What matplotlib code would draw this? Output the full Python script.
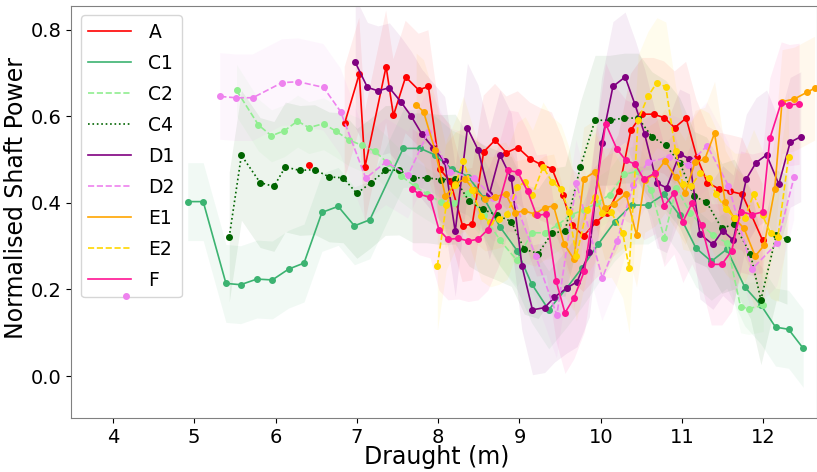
#!/usr/bin/env python3
"""Normalised shaft power against draught for each vessel, with spread bands."""

import matplotlib

matplotlib.use("Agg")

import matplotlib.pyplot as plt
import numpy as np
from matplotlib.lines import Line2D

nan = np.nan

LABELS = ["A", "C1", "C2", "C4", "D1", "D2", "E1", "E2", "F"]
COLORS = ["red", "mediumseagreen", "lightgreen", "darkgreen", "purple",
          "violet", "orange", "gold", "deeppink"]
STYLES = ["-", "-", "--", ":", "-", "--", "-", "--", "-"]
# rough half-width of the shaded band for each series
SPREADS = [0.13, 0.09, 0.06, 0.15, 0.15, 0.10, 0.12, 0.15, 0.14]

A_X = [6.41, nan, 6.85, 7.03, 7.10, 7.36, 7.45, 7.60, 7.76, 7.88,
       8.02, 8.15, 8.30, 8.42, 8.56, 8.70, 8.84, 8.98, 9.13, 9.26,
       9.40, 9.53, 9.65, 9.79, 9.94, 10.08, 10.22, 10.37, 10.51, 10.65,
       10.78, 10.91, 11.05, 11.18, 11.31, 11.46, 11.59, 11.74, 11.99]
A_Y = [0.488, nan, 0.584, 0.698, 0.483, 0.715, 0.602, 0.691, 0.661, 0.669,
       0.478, 0.450, 0.347, 0.351, 0.518, 0.545, 0.516, 0.528, 0.502, 0.489,
       0.479, 0.419, 0.348, 0.324, 0.355, 0.377, 0.428, 0.568, 0.605, 0.605,
       0.597, 0.574, 0.596, 0.507, 0.447, 0.432, 0.427, 0.420, 0.314]

C1_X = [4.92, 5.11, 5.39, 5.57, 5.77, 5.96, 6.16, 6.35, 6.57, 6.77,
        6.97, 7.16, 7.57, 7.78, 7.96, 8.17, 8.37, 8.56, 8.76, 8.97,
        9.15, 9.36, 9.58, 9.77, 9.97, 10.17, 10.38, 10.58, 10.78, 10.97,
        11.17, 11.36, 11.55, 11.77, 11.97, 12.15, 12.31, 12.49]
C1_Y = [0.403, 0.403, 0.214, 0.211, 0.224, 0.222, 0.247, 0.261, 0.378, 0.392,
        0.347, 0.361, 0.526, 0.526, 0.511, 0.478, 0.461, 0.412, 0.345, 0.290,
        0.213, 0.153, 0.203, 0.250, 0.305, 0.356, 0.395, 0.395, 0.420, 0.371,
        0.296, 0.265, 0.293, 0.206, 0.164, 0.113, 0.108, 0.064]

C2_X = [5.52, 5.79, 5.95, 6.11, 6.27, 6.41, 6.59, 6.74, 6.90, 7.06,
        7.22, 7.38, 7.54, 7.71, 7.86, 8.03, 8.19, 8.37, 8.56, 8.76,
        8.97, 9.15, 9.31, 9.47, 9.63, 9.79, 9.95, 10.11, 10.29, 10.45,
        10.62, 10.78, 10.93, 11.10, 11.24, 11.38, 11.55, 11.72, 11.82, 12.00]
C2_Y = [0.660, 0.580, 0.555, 0.567, 0.589, 0.574, 0.583, 0.566, 0.546, 0.533,
        0.520, 0.492, 0.463, 0.439, 0.421, 0.402, 0.399, 0.422, 0.372, 0.314,
        0.267, 0.331, 0.331, 0.349, 0.372, 0.384, 0.399, 0.419, 0.466, 0.473,
        0.429, 0.320, 0.435, 0.377, 0.349, 0.326, 0.308, 0.160, 0.156, 0.163]

C4_X = [5.43, 5.58, 5.81, 5.98, 6.12, 6.30, 6.48, 6.66, 6.83, 7.00,
        7.17, 7.35, 7.52, 7.69, 7.86, 8.03, 8.21, 8.38, 8.55, 8.72,
        8.90, 9.06, 9.23, 9.40, 9.56, 9.75, 9.93, 10.11, 10.29, 10.46,
        10.63, 10.80, 10.97, 11.15, 11.30, 11.49, 11.64, 11.84, 11.97, 12.16,
        12.29]
C4_Y = [0.321, 0.510, 0.447, 0.438, 0.483, 0.475, 0.477, 0.460, 0.458, 0.422,
        0.446, 0.475, 0.476, 0.458, 0.458, 0.454, 0.455, 0.404, 0.385, 0.372,
        0.357, 0.293, 0.283, 0.330, 0.335, 0.484, 0.591, 0.591, 0.596, 0.596,
        0.553, 0.533, 0.493, 0.415, 0.402, 0.341, 0.351, 0.283, 0.176, 0.326,
        0.316]

D1_X = [6.98, 7.13, 7.26, 7.40, 7.54, 7.67, 7.80, 7.94, 8.08, 8.21,
        8.36, 8.49, 8.63, 8.76, 8.90, 9.03, 9.16, 9.31, 9.43, 9.58,
        9.71, 9.86, 10.01, 10.15, 10.30, 10.42, 10.54, 10.69, 10.81, 10.97,
        11.09, 11.22, 11.38, 11.50, 11.63, 11.79, 11.91, 12.04, 12.19, 12.33,
        12.46]
D1_Y = [0.725, 0.667, 0.659, 0.666, 0.634, 0.600, 0.559, 0.527, 0.496, 0.334,
        0.573, 0.523, 0.420, 0.511, 0.457, 0.255, 0.153, 0.158, 0.182, 0.203,
        0.218, 0.287, 0.539, 0.669, 0.691, 0.628, 0.559, 0.446, 0.435, 0.513,
        0.502, 0.328, 0.304, 0.336, 0.314, 0.455, 0.493, 0.511, 0.443, 0.540,
        0.553]

D2_X = [4.16, nan, 5.32, 5.51, 5.72, 6.08, 6.28, 6.59, 6.80, 7.11,
        7.36, 7.63, 7.88, 8.15, 8.44, 8.68, 8.92, 9.20, 9.46, 9.70,
        10.02, 10.20, 10.40, 10.58, 10.84, 11.07, 11.31, 11.57, 11.86, 12.17,
        12.38]
D2_Y = [0.186, nan, 0.646, 0.643, 0.643, 0.678, 0.680, 0.667, 0.611, 0.457,
        0.495, 0.464, 0.565, 0.472, 0.457, 0.412, 0.414, 0.277, 0.141, 0.445,
        0.227, 0.311, 0.442, 0.495, 0.505, 0.488, 0.532, 0.440, 0.247, 0.307,
        0.461]

E1_X = [7.73, 7.82, 7.96, 8.09, 8.21, 8.33, 8.44, 8.58, 8.70, 8.83,
        8.95, 9.06, 9.19, 9.31, 9.42, 9.55, 9.67, 9.79, 9.93, 10.05,
        10.16, 10.31, 10.44, 10.54, 10.67, 10.79, 10.92, 11.04, 11.16, 11.28,
        11.40, 11.53, 11.64, 11.76, 11.90, 12.01, 12.14, 12.23, 12.38, 12.54,
        12.63]
E1_Y = [0.626, 0.611, 0.523, 0.415, 0.444, 0.455, 0.430, 0.409, 0.414, 0.421,
        0.377, 0.382, 0.374, 0.389, 0.393, 0.305, 0.270, 0.455, 0.472, 0.388,
        0.398, 0.421, 0.326, 0.452, 0.467, 0.497, 0.460, 0.424, 0.494, 0.501,
        0.561, 0.402, 0.365, 0.342, 0.277, 0.302, 0.431, 0.634, 0.640, 0.656,
        0.665]

E2_X = [7.99, 8.10, 8.21, 8.31, 8.42, 8.53, 8.64, 8.75, 8.85, 8.97,
        9.07, 9.16, 9.29, 9.40, 9.51, 9.61, 9.70, 9.83, 9.93, 10.02,
        10.13, 10.27, 10.35, 10.46, 10.58, 10.69, 10.80, 10.92, 11.01, 11.11,
        11.22, 11.33, 11.42, 11.54, 11.65, 11.77, 11.88, 11.99, 12.09, 12.18,
        12.31]
E2_Y = [0.254, 0.395, 0.442, 0.497, 0.430, 0.370, 0.356, 0.362, 0.374, 0.436,
        0.449, 0.418, 0.483, 0.449, 0.432, 0.378, 0.277, 0.384, 0.414, 0.376,
        0.378, 0.331, 0.249, 0.592, 0.646, 0.678, 0.668, 0.520, 0.443, 0.438,
        0.469, 0.458, 0.420, 0.385, 0.365, 0.365, 0.420, 0.371, 0.330, 0.322,
        0.507]

F_X = [7.68, 7.77, 7.90, 8.01, 8.12, 8.25, 8.37, 8.49, 8.61, 8.74,
       8.86, 8.98, 9.10, 9.21, 9.33, 9.45, 9.56, 9.67, 9.80, 10.06,
       10.20, 10.31, 10.42, 10.53, 10.67, 10.78, 10.90, 11.01, 11.12, 11.24,
       11.36, 11.49, 11.61, 11.72, 11.86, 11.99, 12.08, 12.22, 12.32, 12.44]
F_Y = [0.432, 0.420, 0.413, 0.338, 0.316, 0.318, 0.312, 0.316, 0.338, 0.393,
       0.475, 0.471, 0.427, 0.371, 0.374, 0.220, 0.146, 0.180, 0.243, 0.583,
       0.524, 0.498, 0.490, 0.455, 0.469, 0.393, 0.422, 0.356, 0.399, 0.348,
       0.258, 0.258, 0.289, 0.380, 0.373, 0.379, 0.549, 0.632, 0.626, 0.629]

SERIES_X = [A_X, C1_X, C2_X, C4_X, D1_X, D2_X, E1_X, E2_X, F_X]
SERIES_Y = [A_Y, C1_Y, C2_Y, C4_Y, D1_Y, D2_Y, E1_Y, E2_Y, F_Y]


def main() -> None:
    fig = plt.figure(figsize=(8.17, 4.72), dpi=100)
    ax = fig.add_axes([0.0875, 0.1144, 0.9125, 0.8729])

    for xs, ys, color, style, spread in zip(SERIES_X, SERIES_Y, COLORS, STYLES, SPREADS):
        x = np.asarray(xs, dtype=float)
        y = np.asarray(ys, dtype=float)
        ax.fill_between(x, y - spread, y + spread, color=color, alpha=0.07, linewidth=0)
        ax.plot(x, y, color=color, linestyle=style, linewidth=1.2, marker="o", markersize=4)

    handles = [
        Line2D([0], [0], color=c, linestyle=s, linewidth=1.2) for c, s in zip(COLORS, STYLES)
    ]
    leg = ax.legend(handles, LABELS, loc="upper left", fontsize=13.5, handlelength=2.3,
                    handletextpad=0.9, labelspacing=0.64)
    leg.set_zorder(1.9)

    ax.set_xlim(3.49, 12.66)
    ax.set_ylim(-0.097, 0.855)
    ax.set_xticks(range(4, 13))
    ax.set_yticks([0.0, 0.2, 0.4, 0.6, 0.8])
    ax.tick_params(labelsize=14)
    ax.set_xlabel("Draught (m)", fontsize=17, labelpad=0)
    ax.set_ylabel("Normalised Shaft Power", fontsize=17)
    ax.xaxis.set_label_coords(0.49, -0.066)
    ax.yaxis.set_label_coords(-0.058, 0.535)
    for spine in ax.spines.values():
        spine.set_color("gray")

    fig.savefig("out.png", dpi=100)
    plt.close(fig)


if __name__ == "__main__":
    main()
